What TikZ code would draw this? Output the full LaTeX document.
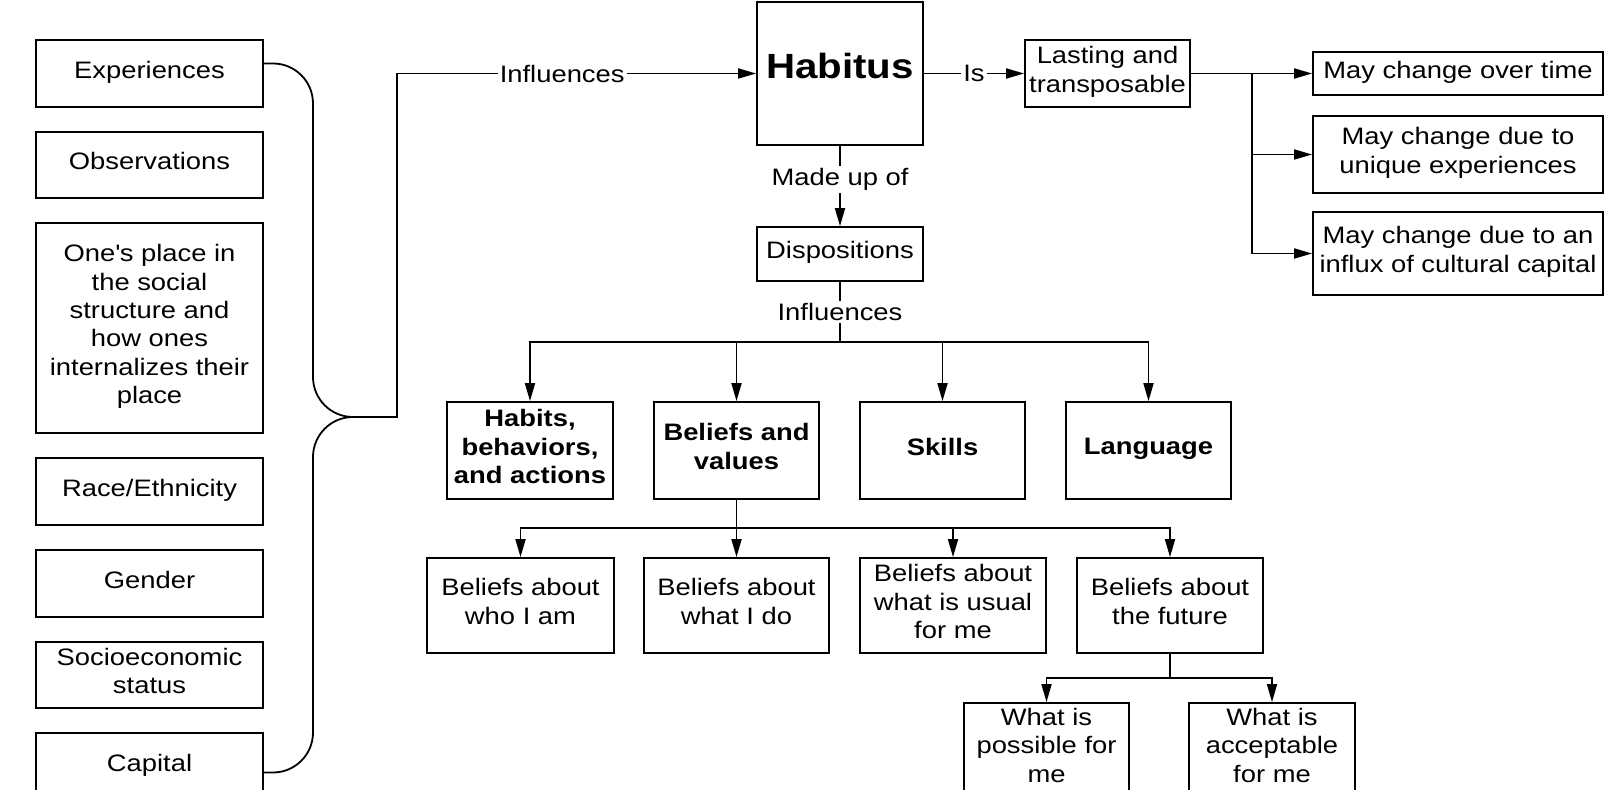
\documentclass[tikz,border=0pt]{standalone}
\usepackage{fontspec}
\setmainfont{Liberation Sans}[FakeStretch=1.15]
\usetikzlibrary{arrows.meta}

\begin{document}
\begin{tikzpicture}[x=0.5pt, y=-0.5pt, line width=0.9pt,
    font=\fontsize{11.9pt}{14.2pt}\selectfont,
    box/.style={draw, align=center, inner sep=1pt, text depth=4pt},
    sz/.style 2 args={minimum width=#1*0.5pt, minimum height=#2*0.5pt},
    bold/.style={font=\fontsize{11.9pt}{14.2pt}\selectfont\bfseries},
    lab/.style={fill=white, inner sep=1pt},
    arr/.style={-{Triangle[length=9pt,width=5pt]}}]

            \useasboundingbox (0,0) rectangle (1605,790);
            \clip (0,0) rectangle (1605,790);

            % left column
            \node (exp) at (149.5,73.5) [box, sz={227}{67}] {Experiences};
            \node (obs) at (149.5,165) [box, sz={227}{66}] {Observations};
            \node (place) at (149.5,328) [box, sz={227}{210}] {One\textquotesingle s place in\\the social\\structure and\\how ones\\internalizes their\\place};
            \node (race) at (149.5,491.5) [box, sz={227}{67}] {Race/Ethnicity};
            \node (gender) at (149.5,583.5) [box, sz={227}{67}] {Gender};
            \node (socio) at (149.5,675) [box, sz={227}{66}] {Socioeconomic\\status};
            \node (capital) at (149.5,766.5) [box, sz={227}{67}] {Capital};

            % brace
            \coordinate (tip) at (355,417);
            \draw[rounded corners=20pt] ([yshift=5pt]exp.east) -| (313,417) -- (tip);
            \draw[rounded corners=20pt] ([yshift=-3pt]capital.east) -| (313,417) -- (tip);

            % habitus
            \node (habitus) at (840,73.5) [box, sz={166}{143}, text depth=8pt, font=\fontsize{17.5pt}{20pt}\selectfont\bfseries] {Habitus};
            \draw[arr] (tip) -- ++(42,0) |- node[lab, pos=0.73] {Influences} (habitus.west);

            \node (lasting) at (1107.5,73.5) [box, sz={165}{67}] {Lasting and\\transposable};
            \draw[arr] (habitus) -- node[lab] {Is} (lasting);

            % right column
            \node (may1) at (1458,73.5) [box, sz={290}{43}] {May change over time};
            \node (may2) at (1458,154.5) [box, sz={290}{77}] {May change due to\\unique experiences};
            \node (may3) at (1458,253.5) [box, sz={290}{83}] {May change due to an\\influx of cultural capital};
            \coordinate (split) at (1252,73.5);
            \draw[arr] (lasting) -- (may1);
            \foreach \m in {may2,may3} {
                \draw[arr] (split) |- (\m);
            }

            % dispositions
            \node (disp) at (840,254) [box, sz={166}{54}] {Dispositions};
            \draw[arr] (habitus) -- node[lab, pos=0.42] {Made up of} (disp);
            \coordinate (bar1) at (840,342);
            \draw (disp) -- node[lab] {Influences} (bar1);

            \node (habits) at (530,450.5) [box, bold, sz={166}{97}] {Habits,\\behaviors,\\and actions};
            \node (belval) at (736.5,450.5) [box, bold, sz={165}{97}] {Beliefs and\\values};
            \node (skills) at (942.5,450.5) [box, bold, sz={165}{97}] {Skills};
            \node (lang) at (1148.5,450.5) [box, bold, sz={165}{97}] {Language};
            \foreach \n in {habits,belval,skills,lang} {
                \draw[arr] (bar1) -| (\n);
            }

            % beliefs
            \node (who) at (520.5,605.5) [box, sz={187}{95}] {Beliefs about\\who I am};
            \node (whatdo) at (736.5,605.5) [box, sz={185}{95}] {Beliefs about\\what I do};
            \node (usual) at (953,605.5) [box, sz={186}{95}] {Beliefs about\\what is usual\\for me};
            \node (future) at (1170,605.5) [box, sz={186}{95}] {Beliefs about\\the future};
            \coordinate (bar2) at (736.5,528);
            \draw (belval) -- (bar2);
            \foreach \n in {who,whatdo,usual,future} {
                \draw[arr] (bar2) -| (\n);
            }

            % future
            \node (possible) at (1046.5,749) [box, sz={165}{92}] {What is\\possible for\\me};
            \node (accept) at (1272,749) [box, sz={166}{92}] {What is\\acceptable\\for me};
            \coordinate (bar3) at (1170,678);
            \draw (future) -- (bar3);
            \foreach \n in {possible,accept} {
                \draw[arr] (bar3) -| (\n);
            }

\end{tikzpicture}
\end{document}
